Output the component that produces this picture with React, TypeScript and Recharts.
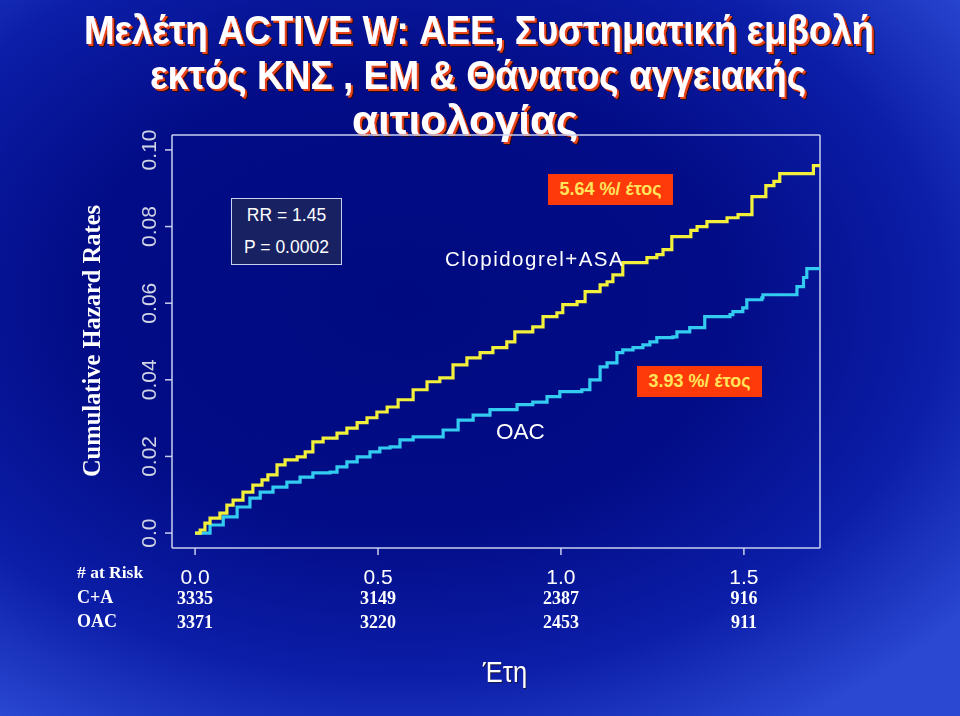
import React from 'react';
import { LineChart, Line, XAxis, YAxis, ReferenceLine } from 'recharts';

// years since randomisation
const yearTicks = [0, 0.5, 1.0, 1.5];
const atRiskCA = [3335, 3149, 2387, 916];
const atRiskOAC = [3371, 3220, 2453, 911];
const hazardTicks = [0, 0.02, 0.04, 0.06, 0.08, 0.1];

const titleLines = [
  'Μελέτη ACTIVE W: ΑΕΕ, Συστηματική εμβολή',
  'εκτός ΚΝΣ , ΕΜ & Θάνατος αγγειακής',
  'αιτιολογίας',
];

// Clopidogrel + ASA (yellow)
const caTime = [
  0, 0.014, 0.027, 0.041, 0.068, 0.087, 0.104, 0.131, 0.158, 0.183, 0.199, 0.224, 0.246, 0.279, 0.301,
  0.322, 0.35, 0.388, 0.415, 0.443, 0.47, 0.497, 0.525, 0.555, 0.596, 0.634, 0.669, 0.705, 0.743, 0.779,
  0.814, 0.852, 0.874, 0.923, 0.951, 0.989, 1.005, 1.044, 1.066, 1.107, 1.126, 1.142, 1.169, 1.235, 1.262,
  1.279, 1.303, 1.355, 1.372, 1.399, 1.454, 1.484, 1.522, 1.56, 1.582, 1.598, 1.69, 1.708,
];
const caHazard = [
  0, 0.0008, 0.0026, 0.0039, 0.0052, 0.0073, 0.0086, 0.0107, 0.0125, 0.0139, 0.0152, 0.0178, 0.0191, 0.0199,
  0.0212, 0.0238, 0.0248, 0.0261, 0.0274, 0.0288, 0.0301, 0.0316, 0.0329, 0.0348, 0.0374, 0.0395, 0.0405,
  0.0439, 0.0457, 0.0471, 0.0484, 0.0499, 0.0525, 0.0538, 0.0565, 0.0575, 0.0596, 0.0604, 0.063, 0.0648,
  0.0656, 0.0674, 0.0706, 0.0719, 0.0727, 0.074, 0.0774, 0.079, 0.08, 0.0813, 0.0823, 0.0831, 0.0878, 0.0907,
  0.0918, 0.0938, 0.0959, 0.0959,
];

// OAC (cyan)
const oacTime = [
  0, 0.041, 0.077, 0.115, 0.15, 0.178, 0.213, 0.251, 0.287, 0.322, 0.369, 0.388, 0.415, 0.443, 0.478, 0.505,
  0.533, 0.56, 0.596, 0.678, 0.719, 0.76, 0.806, 0.88, 0.923, 0.962, 0.997, 1.057, 1.079, 1.107, 1.126, 1.153,
  1.169, 1.197, 1.224, 1.243, 1.262, 1.306, 1.317, 1.352, 1.393, 1.462, 1.47, 1.497, 1.508, 1.549, 1.552,
  1.645, 1.663, 1.672, 1.708,
];
const oacHazard = [
  0, 0.0021, 0.0042, 0.0068, 0.0091, 0.0107, 0.012, 0.0133, 0.0146, 0.0157, 0.0159, 0.0173, 0.0186, 0.0199,
  0.0212, 0.0222, 0.0225, 0.0243, 0.0251, 0.0269, 0.0295, 0.0308, 0.0322, 0.0335, 0.0342, 0.0356, 0.0369,
  0.0374, 0.04, 0.0434, 0.0444, 0.0471, 0.0478, 0.0484, 0.0491, 0.0499, 0.051, 0.0512, 0.0525, 0.0536, 0.0565,
  0.057, 0.0578, 0.0588, 0.0609, 0.0614, 0.0622, 0.0643, 0.0667, 0.069, 0.069,
];

const caData = caTime.map((x, i) => ({ x, y: caHazard[i] }));
const oacData = oacTime.map((x, i) => ({ x, y: oacHazard[i] }));

const X_MIN = -0.063;
const X_MAX = 1.708;
const Y_MIN = -0.0039;
const Y_MAX = 0.1039;

const axisColor = '#c8d0ee';
const arial = "'Liberation Sans', Arial, sans-serif";
const times = "'Liberation Serif', 'Times New Roman', serif";

const YTick = ({ x, y, payload }: any) => {
  const cx = x - 14;
  const label = payload.value === 0 ? '0.0' : payload.value.toFixed(2);
  return (
    <text
      x={cx}
      y={y}
      transform={`rotate(-90, ${cx}, ${y})`}
      textAnchor="middle"
      dominantBaseline="central"
      fill="#d0d4e4"
      fontSize={21}
      fontFamily={arial}
    >
      {label}
    </text>
  );
};

const XTick = ({ x, y, payload }: any) => {
  const i = yearTicks.indexOf(payload.value);
  return (
    <g>
      <text x={x} y={y + 19} textAnchor="middle" dominantBaseline="central" fill="#fff" fontSize={21} fontFamily={arial}>
        {payload.value.toFixed(1)}
      </text>
      <text x={x} y={y + 41} textAnchor="middle" dominantBaseline="central" fill="#fff" fontSize={18} fontWeight="bold" fontFamily={times}>
        {atRiskCA[i]}
      </text>
      <text x={x} y={y + 65} textAnchor="middle" dominantBaseline="central" fill="#fff" fontSize={18} fontWeight="bold" fontFamily={times}>
        {atRiskOAC[i]}
      </text>
    </g>
  );
};

// title line: narrow-looking bold text (stretched vertically), shadow from the svg filter
const TitleLine = ({ text, x, y, width }: { text: string; x: number; y: number; width: number }) => (
  <text
    x={0}
    y={0}
    transform={`translate(${x}, ${y}) scale(1, 1.17)`}
    fill="#ffffff"
    fontFamily={arial}
    fontWeight="bold"
    fontSize={35}
    textLength={width}
    lengthAdjust="spacingAndGlyphs"
    filter="url(#titleShadow)"
  >
    {text}
  </text>
);

const abs = (style: React.CSSProperties): React.CSSProperties => ({ position: 'absolute', ...style });

export default function App() {
  return (
    <div
      style={{
        position: 'fixed',
        left: 0,
        top: 0,
        width: 960,
        height: 716,
        overflow: 'hidden',
        background:
          'radial-gradient(ellipse 75% 70% at 42% 42%, #000a80 0%, #020c86 45%, #0c1ea8 75%, #2a48d2 100%)',
      }}
    >
      <svg width={960} height={152} style={abs({ left: 0, top: 0 })}>
        <defs>
          <filter id="titleShadow" x="-5%" y="-20%" width="110%" height="150%">
            <feOffset in="SourceAlpha" dx={3} dy={2.6} result="off2" />
            <feFlood floodColor="#2a0a10" result="col2" />
            <feComposite in="col2" in2="off2" operator="in" result="sh2" />
            <feOffset in="SourceAlpha" dx={2} dy={1.7} result="off1" />
            <feFlood floodColor="#e8451c" result="col1" />
            <feComposite in="col1" in2="off1" operator="in" result="sh1" />
            <feMerge>
              <feMergeNode in="sh2" />
              <feMergeNode in="sh1" />
              <feMergeNode in="SourceGraphic" />
            </feMerge>
          </filter>
        </defs>
        <TitleLine text={titleLines[0]} x={84} y={44} width={790} />
        <TitleLine text={titleLines[1]} x={150} y={89} width={656} />
        <TitleLine text={titleLines[2]} x={352} y={134} width={226} />
      </svg>

      <div style={abs({ left: 0, top: 0 })}>
        <LineChart width={960} height={716} margin={{ top: 135, right: 140, bottom: 138, left: 112 }}>
          <XAxis
            dataKey="x"
            type="number"
            domain={[X_MIN, X_MAX]}
            ticks={yearTicks}
            allowDataOverflow
            height={30}
            stroke={axisColor}
            strokeWidth={1.5}
            tickSize={7}
            tick={<XTick />}
          />
          <YAxis
            type="number"
            domain={[Y_MIN, Y_MAX]}
            ticks={hazardTicks}
            allowDataOverflow
            width={60}
            stroke={axisColor}
            strokeWidth={1.5}
            tickSize={7}
            tick={<YTick />}
          />
          <ReferenceLine y={Y_MAX} stroke={axisColor} strokeWidth={1.5} />
          <ReferenceLine x={X_MAX} stroke={axisColor} strokeWidth={1.5} />
          <Line
            data={oacData}
            dataKey="y"
            type="stepAfter"
            stroke="#33ccf0"
            strokeWidth={3.2}
            dot={false}
            isAnimationActive={false}
          />
          <Line
            data={caData}
            dataKey="y"
            type="stepAfter"
            stroke="#f2f03a"
            strokeWidth={3.2}
            dot={false}
            isAnimationActive={false}
          />
        </LineChart>
      </div>

      <div
        style={abs({
          left: 92,
          top: 341,
          transform: 'translate(-50%, -50%) rotate(-90deg)',
          whiteSpace: 'nowrap',
          color: '#fff',
          fontFamily: times,
          fontWeight: 'bold',
          fontSize: 24.5,
        })}
      >
        Cumulative Hazard Rates
      </div>

      <div
        style={abs({
          left: 231,
          top: 198,
          width: 111,
          height: 67,
          boxSizing: 'border-box',
          border: '1.5px solid #c8d0ee',
          background: '#182262',
          color: '#fff',
          fontFamily: arial,
          fontSize: 17.5,
          textAlign: 'center',
          lineHeight: '32px',
        })}
      >
        RR = 1.45
        <br />
        P = 0.0002
      </div>

      <div
        style={abs({
          left: 548,
          top: 174,
          width: 125,
          height: 31,
          background: '#ff3a0a',
          color: '#ffe45a',
          fontFamily: arial,
          fontWeight: 'bold',
          fontSize: 18,
          lineHeight: '31px',
          textAlign: 'center',
        })}
      >
        5.64 %/ έτος
      </div>

      <div
        style={abs({
          left: 637,
          top: 366,
          width: 125,
          height: 31,
          background: '#ff3a0a',
          color: '#ffe45a',
          fontFamily: arial,
          fontWeight: 'bold',
          fontSize: 18,
          lineHeight: '31px',
          textAlign: 'center',
        })}
      >
        3.93 %/ έτος
      </div>

      <div
        style={abs({ left: 445, top: 247, color: '#fff', fontFamily: arial, fontSize: 20.5, letterSpacing: 1.5, whiteSpace: 'nowrap' })}
      >
        Clopidogrel+ASA
      </div>
      <div style={abs({ left: 496, top: 419, color: '#fff', fontFamily: arial, fontSize: 22.5 })}>OAC</div>

      <div style={abs({ left: 77, top: 562, color: '#fff', fontFamily: times, fontWeight: 'bold', fontSize: 17.5 })}>
        # at Risk
      </div>
      <div style={abs({ left: 77, top: 587, color: '#fff', fontFamily: times, fontWeight: 'bold', fontSize: 18 })}>C+A</div>
      <div style={abs({ left: 77, top: 611, color: '#fff', fontFamily: times, fontWeight: 'bold', fontSize: 18 })}>OAC</div>

      <div
        style={abs({
          left: 505,
          top: 672,
          transform: 'translate(-50%, -50%) scaleX(0.85)',
          color: '#fff',
          fontFamily: arial,
          fontSize: 30,
          textShadow: '1px 1px 0 #1a1a40',
        })}
      >
        Έτη
      </div>
    </div>
  );
}
